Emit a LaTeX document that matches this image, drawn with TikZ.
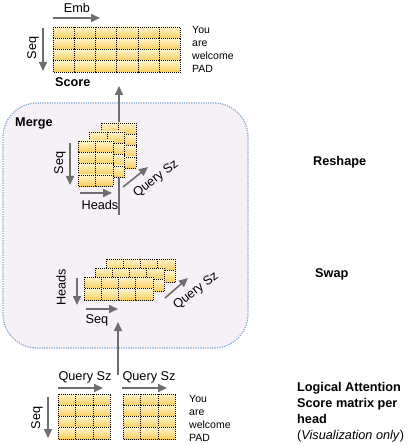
\documentclass[tikz,border=0pt]{standalone}
\usepackage{fontspec}
\setmainfont{Liberation Sans}
\usetikzlibrary{arrows.meta}

\definecolor{cellTop}{RGB}{255,245,205}
\definecolor{cellBot}{RGB}{249,204,90}
\definecolor{dimGray}{RGB}{110,110,110}
\definecolor{mergeFill}{RGB}{246,241,246}
\definecolor{mergeLine}{RGB}{125,165,210}

% grid of cells: origin, columns, rows, cell width, cell height
\newcommand{\cellgrid}[5]{%
  \begin{scope}[shift={(#1)}]
    \foreach \i in {1,...,#2}
      \foreach \j in {1,...,#3}
        \draw[cell] ({(\i-1)*#4},{(\j-1)*#5}) rectangle ++(#4,#5);
  \end{scope}}

\begin{document}
\begin{tikzpicture}[x=1pt, y=-1pt,
      every node/.style = {inner sep=0pt, font=\fontsize{12.7}{15}\selectfont},
      cell/.style = {top color=cellTop, bottom color=cellBot,
        draw=black, line width=0.55pt, dash pattern=on 0.55pt off 1.45pt},
      dimarrow/.style = {draw=dimGray, line width=1.6pt,
        -{Triangle[length=9pt,width=8pt]}},
      mergebox/.style = {fill=mergeFill, draw=mergeLine, line width=1.2pt,
        dash pattern=on 1.2pt off 1.2pt, rounded corners=34pt},
      sidenote/.style = {anchor=west, align=left,
        font=\fontsize{10.5}{13}\selectfont},
      steplabel/.style = {anchor=west, align=left,
        font=\fontsize{12.7}{16}\selectfont\bfseries}]
  \useasboundingbox (0,0) rectangle (410,446);

  % merge region
  \draw[mergebox] (3,103) rectangle (248,348);
  \node[anchor=west, font=\fontsize{12.7}{15}\selectfont\bfseries] (merge) at (15,123) {Merge};

  % flow arrows
  \coordinate (logicOut) at (118,375);
  \coordinate (swapIn) at (118,322);
  \coordinate (mergeOut) at (119,215);
  \coordinate (scoreIn) at (119,86);
  \draw[dimarrow] (logicOut) -- (swapIn);
  \draw[dimarrow] (mergeOut) -- (scoreIn);

  % score
  \cellgrid{53,27}{6}{4}{21.2}{11.25}
  \coordinate (embA) at (53,18);  \coordinate (embB) at (100,18);
  \coordinate (seqA) at (43,28);  \coordinate (seqB) at (43,71);
  \draw[dimarrow] (embA) -- (embB);
  \draw[dimarrow] (seqA) -- (seqB);
  \node (emb) at (77,8) {Emb};
  \node[rotate=90] (seq) at (33,48) {Seq};
  \node[sidenote] (words) at (192,49.5) {You\\are\\welcome\\PAD};
  \node[anchor=west, font=\fontsize{12.7}{15}\selectfont\bfseries] (score) at (55,82) {Score};

  % reshape stack
  \cellgrid{101,123}{2}{4}{17.5}{11.3}
  \cellgrid{89.5,132}{2}{4}{17.5}{11.3}
  \cellgrid{78,141}{2}{4}{17.5}{11.3}
  \coordinate (rSeqA) at (70,143);  \coordinate (rSeqB) at (70,185);
  \coordinate (rHeadA) at (80,193); \coordinate (rHeadB) at (112,193);
  \coordinate (rQryA) at (123,187); \coordinate (rQryB) at (148,167);
  \draw[dimarrow] (rSeqA) -- (rSeqB);
  \draw[dimarrow] (rHeadA) -- (rHeadB);
  \draw[dimarrow] (rQryA) -- (rQryB);
  \node[rotate=90] (rSeq) at (60,163) {Seq};
  \node (rHeads) at (100,205) {Heads};
  \node[rotate=38] (rQry) at (156,179) {Query Sz};

  % swap stack
  \cellgrid{106,259}{4}{2}{17.25}{11.7}
  \cellgrid{95,268}{4}{2}{17.25}{11.7}
  \cellgrid{84,277}{4}{2}{17.25}{11.7}
  \coordinate (sHeadA) at (77,278); \coordinate (sHeadB) at (77,305);
  \coordinate (sSeqA) at (86,309);  \coordinate (sSeqB) at (118,309);
  \coordinate (sQryA) at (165,298); \coordinate (sQryB) at (188,278);
  \draw[dimarrow] (sHeadA) -- (sHeadB);
  \draw[dimarrow] (sSeqA) -- (sSeqB);
  \draw[dimarrow] (sQryA) -- (sQryB);
  \node[rotate=90] (sHeads) at (61,287) {Heads};
  \node (sSeq) at (97,320) {Seq};
  \node[rotate=38] (sQry) at (196,291) {Query Sz};

  % logical score matrices
  \cellgrid{58,394}{3}{4}{17.4}{11.25}
  \cellgrid{123,394}{3}{4}{17.4}{11.25}
  \coordinate (lQryA) at (58,388);  \coordinate (lQryB) at (103,388);
  \coordinate (rQryA2) at (122,388); \coordinate (rQryB2) at (167,388);
  \coordinate (lSeqA) at (48,397);  \coordinate (lSeqB) at (48,438);
  \draw[dimarrow] (lQryA) -- (lQryB);
  \draw[dimarrow] (rQryA2) -- (rQryB2);
  \draw[dimarrow] (lSeqA) -- (lSeqB);
  \node (lQry) at (85,377) {Query Sz};
  \node (rQry2) at (149,377) {Query Sz};
  \node[rotate=90] (lSeq) at (37,418) {Seq};
  \node[sidenote] (words2) at (189,418.5) {You\\are\\welcome\\PAD};

  % step names
  \node[steplabel] (reshape) at (313,162) {Reshape};
  \node[steplabel] (swap) at (315,274) {Swap};
  \node[steplabel] (logical) at (297,412)
    {Logical Attention\\Score matrix per\\head\\\mdseries(\textit{Visualization only})};
\end{tikzpicture}
\end{document}
